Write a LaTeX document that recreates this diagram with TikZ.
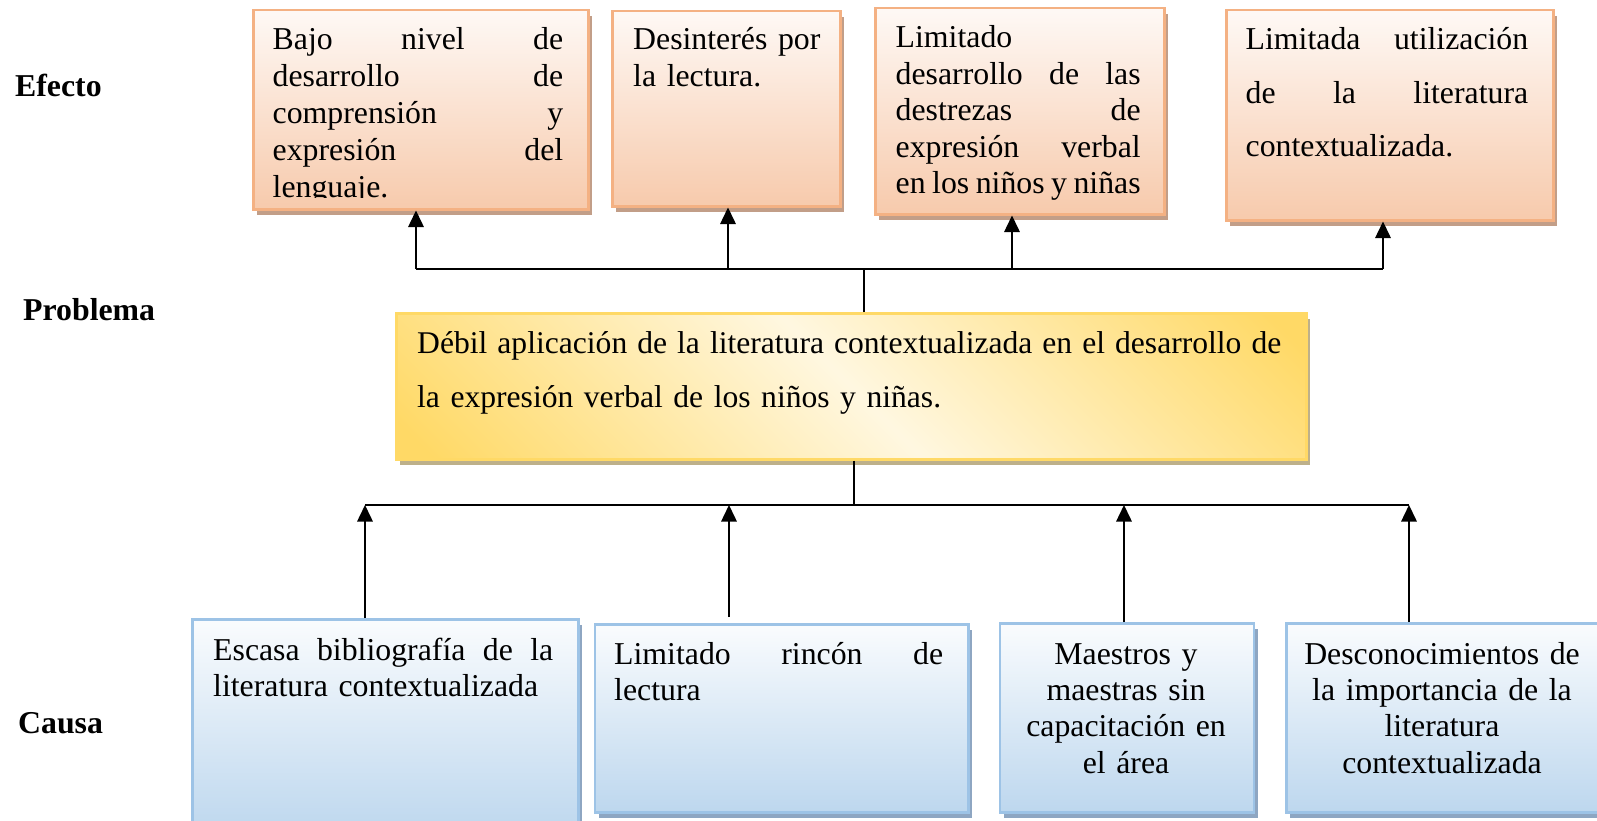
\documentclass[tikz,border=0pt]{standalone}
\usepackage{fontspec}
\setmainfont{Liberation Serif}
\usetikzlibrary{arrows.meta,shadows,calc}
\definecolor{orgB}{HTML}{F4B183}
\definecolor{orgF}{HTML}{F7CAAC}
\definecolor{orgS}{HTML}{C29E88}
\definecolor{golD}{HTML}{FFD966}
\definecolor{golL}{HTML}{FFF2CC}
\definecolor{golS}{HTML}{BDB08A}
\definecolor{bluB}{HTML}{9DC3E6}
\definecolor{bluF}{HTML}{BDD7EE}
\definecolor{bluS}{HTML}{8EA6C2}
\pgfdeclarehorizontalshading{goldiag}{100bp}{color(0bp)=(golD); color(17bp)=(golD); color(50bp)=(golL!60!white); color(83bp)=(golD); color(100bp)=(golD)}
\tikzset{
  efbox/.style={draw=orgB, line width=2.5pt, top color=orgF!12!white, bottom color=orgF,
    inner sep=0pt, anchor=north west,
    drop shadow={shadow xshift=4pt, shadow yshift=-6pt, fill=orgS, opacity=1}},
  prbox/.style={draw=golD, line width=2.5pt, shading=goldiag, shading angle=45,
    inner sep=0pt, anchor=north west,
    drop shadow={shadow xshift=4pt, shadow yshift=-6pt, fill=golS, opacity=1}},
  cabox/.style={draw=bluB, line width=2.5pt, top color=bluF!8!white, bottom color=bluF,
    inner sep=0pt, anchor=north west,
    drop shadow={shadow xshift=4pt, shadow yshift=-6pt, fill=bluS, opacity=1}},
  txt/.style={anchor=base west, inner sep=0pt, align=left,
    font=\fontsize{31.8}{36.6}\selectfont},
  ctxt/.style={anchor=base, inner sep=0pt, align=center,
    font=\fontsize{31.8}{36.4}\selectfont},
  lbl/.style={anchor=base west, inner sep=0pt, font=\bfseries\fontsize{31.8}{36}\selectfont},
  conn/.style={line width=1.5pt, black},
  arr/.style={conn, -{Triangle[width=15.5pt,length=16.5pt]}}
}
\begin{document}
\begin{tikzpicture}[x=1pt,y=-1pt]
\useasboundingbox (0,0) rectangle (1597,821);
% labels
\node[lbl] (lef) at (15,97) {Efecto};
\node[lbl] (lpr) at (23,320) {Problema};
\node[lbl] (lca) at (18,733) {Causa};
% effect boxes
\node[efbox, minimum width=335pt, minimum height=199pt] (e1) at (252,9) {};
\node[efbox, minimum width=228pt, minimum height=195pt] (e2) at (611,10) {};
\node[efbox, minimum width=289pt, minimum height=206pt] (e3) at (874,7) {};
\node[efbox, minimum width=327pt, minimum height=210pt] (e4) at (1225,9) {};
\begin{scope}
\clip (252,9) rectangle (590,198);
\node[txt, text width=290.5pt, font=\fontsize{31.8}{36.8}\selectfont] (e1t) at (272.5,50)
 {Bajo\hfill nivel\hfill de\\ desarrollo\hfill de\\ comprensión\hfill y\\ expresión\hfill del\\ lenguaje.};
\end{scope}
\node[txt, text width=200pt] (e2t) at (633,50) {Desinterés por\\ la lectura.};
\node[txt, text width=245pt, font=\fontsize{31.8}{36.5}\selectfont] (e3t) at (895.5,48)
 {Limitado\\ desarrollo\hfill de\hfill las\\ destrezas\hfill de\\ expresión\hfill verbal\\ en\hfill los\hfill niños\hfill y\hfill niñas};
\node[txt, text width=282.5pt, font=\fontsize{31.8}{53.5}\selectfont] (e4t) at (1245.5,50)
 {Limitada\hfill utilización\\ de\hfill la\hfill literatura\\ contextualizada.};
% problem box
\node[prbox, minimum width=910pt, minimum height=146pt] (p) at (395,312) {};
\node[txt, text width=864pt, font=\fontsize{31.6}{54}\selectfont] (pt) at (417,353)
 {Débil\hfill aplicación\hfill de\hfill la\hfill literatura\hfill contextualizada\hfill en\hfill el\hfill desarrollo\hfill de\\ la expresión verbal de los niños y niñas.};
% cause boxes
\node[cabox, minimum width=386pt, minimum height=215pt] (c1) at (191,618) {};
\node[cabox, minimum width=373.5pt, minimum height=188pt] (c2) at (593.5,623) {};
\node[cabox, minimum width=254pt, minimum height=189pt] (c3) at (998.5,622) {};
\node[cabox, minimum width=330pt, minimum height=189pt] (c4) at (1285,622) {};
\node[txt, text width=340pt] (c1t) at (213,660)
 {Escasa\hfill bibliografía\hfill de\hfill la\\ literatura contextualizada};
\node[txt, text width=329pt] (c2t) at (614,664)
 {Limitado\hfill rincón\hfill de\\ lectura};
\node[ctxt, text width=240pt] (c3t) at (1126,664)
 {Maestros y\\ maestras sin\\ capacitación en\\ el área};
\node[ctxt, text width=300pt] (c4t) at (1442,664)
 {Desconocimientos de\\ la importancia de la\\ literatura\\ contextualizada};
% top connectors
\coordinate (t1) at (416,269);
\coordinate (t2) at (728,269);
\coordinate (t3) at (1012,269);
\coordinate (t4) at (1383,269);
\coordinate (tj) at (864,269);
\draw[conn] (t1) -- (t4);
\draw[conn] (p.north -| tj) -- (tj);
\draw[arr] (t1) -- (t1 |- e1.south);
\draw[arr] (t2) -- (t2 |- e2.south);
\draw[arr] (t3) -- (t3 |- e3.south);
\draw[arr] (t4) -- (t4 |- e4.south);
% bottom connectors
\coordinate (b1) at (365,505);
\coordinate (b2) at (729,505);
\coordinate (b3) at (1124,505);
\coordinate (b4) at (1409,505);
\coordinate (bj) at (854,505);
\draw[conn] (b1) -- (b4);
\draw[conn] (p.south -| bj) -- (bj);
\draw[arr] (b1 |- c1.north) -- (b1);
\draw[arr] ($(b2 |- c2.north)+(0,-6)$) -- (b2);
\draw[arr] (b3 |- c3.north) -- (b3);
\draw[arr] (b4 |- c4.north) -- (b4);
\end{tikzpicture}
\end{document}
